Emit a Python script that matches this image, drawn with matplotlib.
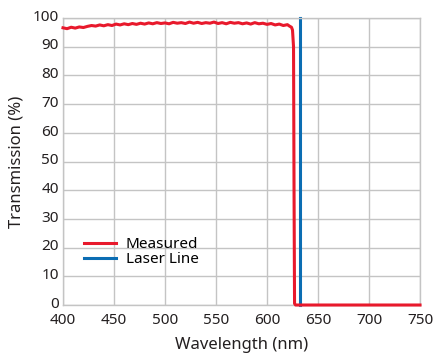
import matplotlib.pyplot as plt
import matplotlib.transforms as mtransforms

plt.rcParams["font.family"] = ["Noto Sans", "DejaVu Sans"]

# measured transmission curve (nm, %)
wavelength = [400, 404, 408, 412, 416, 420, 424, 428, 432, 436, 440, 444, 448, 452,
              456, 460, 464, 468, 472, 476, 480, 484, 488, 492, 496, 500, 504, 508,
              512, 516, 520, 524, 528, 532, 536, 540, 544, 548, 552, 556, 560, 564,
              568, 572, 576, 580, 584, 588, 592, 596, 600, 604, 608, 612, 616, 620,
              622, 624, 625, 626, 626.5, 627, 628, 750]
transmission = [96.6, 96.3, 96.8, 96.5, 96.9, 96.7, 97.1, 97.4, 97.2, 97.6, 97.3, 97.7,
                97.4, 97.9, 97.6, 98.0, 97.7, 98.1, 97.8, 98.2, 97.9, 98.3, 98.0, 98.4,
                98.1, 98.3, 98.0, 98.5, 98.2, 98.4, 98.1, 98.6, 98.2, 98.5, 98.1, 98.4,
                98.2, 98.6, 98.1, 98.4, 98.0, 98.5, 98.2, 98.4, 98.0, 98.3, 97.9, 98.4,
                98.0, 98.2, 97.8, 98.1, 97.6, 97.9, 97.4, 97.7, 97.2, 96.8, 95.8, 90.0,
                40.0, 0.5, 0.0, 0.0]
laser_nm = 632.8

fig = plt.figure(figsize=(4.33, 3.54), dpi=100)
ax = fig.add_axes([0.1455, 0.1384, 0.8245, 0.8106])

ax.plot([laser_nm, laser_nm], [0, 100], color="#0b6db3", lw=2.2, label="Laser Line",
        zorder=2, clip_on=False)
ax.plot(wavelength, transmission, color="#e8192c", lw=2.2, label="Measured",
        zorder=3, clip_on=False)

ax.set_xlim(400, 750)
ax.set_ylim(0, 100)
ax.set_xticks(range(400, 751, 50))
ax.set_yticks(range(0, 101, 10))
ax.grid(True, color="#c4c4c4", lw=1.0)
ax.set_axisbelow(True)
for s in ax.spines.values():
    s.set_color("#c4c4c4")
    s.set_linewidth(1.0)
ax.tick_params(length=0, labelsize=11, colors="#231f20")
ax.tick_params(axis="x", pad=6)
ax.tick_params(axis="y", pad=3)

# y tick labels sit a touch above their gridlines
shift = mtransforms.ScaledTranslation(0, 2 / 72, fig.dpi_scale_trans)
for lbl in ax.get_yticklabels():
    lbl.set_transform(lbl.get_transform() + shift)

ax.set_xlabel("Wavelength (nm)", fontsize=12, color="#231f20", labelpad=6)
ax.set_ylabel("Transmission (%)", fontsize=12, color="#231f20", labelpad=6)

handles, labels = ax.get_legend_handles_labels()
ax.legend(handles[::-1], labels[::-1], loc="lower left", bbox_to_anchor=(0.03, 0.095),
          frameon=False, fontsize=11, handlelength=2.1, labelspacing=0.0,
          borderpad=0.2, handletextpad=0.6)

plt.savefig("out.png", dpi=100)
plt.close()
